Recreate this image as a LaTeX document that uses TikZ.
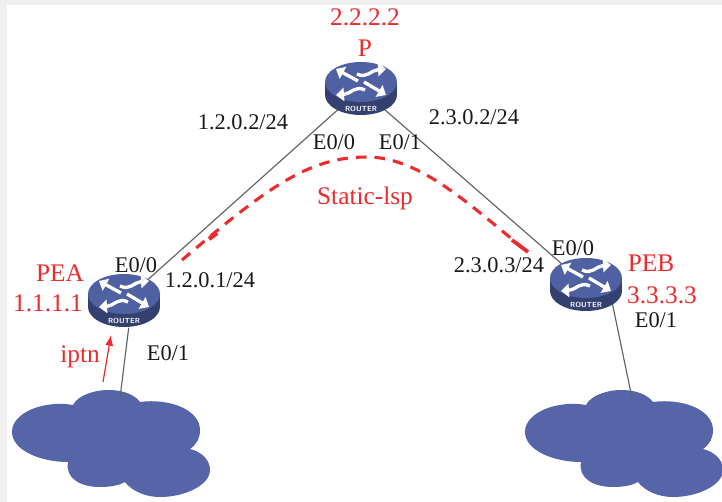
\documentclass[tikz,border=0pt]{standalone}
\usepackage{fontspec}
\setmainfont{Liberation Serif}
\usetikzlibrary{calc, arrows.meta, shapes.geometric}
\definecolor{routertop}{HTML}{5061A3}
\definecolor{routerside}{HTML}{34406F}
\definecolor{cloudblue}{HTML}{5565A8}
\definecolor{labelred}{HTML}{EE2A2A}
\tikzset{
    routerspot/.style={ellipse, minimum width=54pt, minimum height=40pt, inner sep=0pt},
    tag/.style={font=\fontsize{16.8}{16.8}\selectfont, inner sep=0pt, text=black!90},
    redtag/.style={font=\fontsize{19}{19}\selectfont, inner sep=0pt, text=labelred},
    link/.style={draw=black!62, line width=0.85pt},
    iconarrow/.style={white, line width=2.5pt, -{Triangle[length=6pt,width=10pt]}},
    pics/router/.style={code={
        \fill[routerside] (0,6) ellipse[x radius=36, y radius=20];
        \fill[routerside] (-36,-7) rectangle (36,6);
        \fill[routertop] (0,-7) ellipse[x radius=36, y radius=20];
        \draw[iconarrow] (-3,-8) -- (-25,-20);
        \draw[iconarrow] (-4,-15) .. controls (6,-10) and (10,-19) .. (25,-20);
        \draw[iconarrow] (3,-7) -- (25,6);
        \draw[iconarrow] (4,1) .. controls (-6,-4) and (-10,5) .. (-25,6);
        \node[font=\sffamily\bfseries\fontsize{5.5}{5.5}\selectfont, text=white, inner sep=0pt] at (0,19.5) {ROUTER};
    }},
    pics/cloud/.style={code={
        \fill[cloudblue] (12,432) .. controls (12,412) and (45,400) .. (73,405)
            .. controls (78,395) and (95,390) .. (108,390)
            .. controls (122,390) and (134,394) .. (140,402)
            .. controls (170,398) and (200,410) .. (200,430)
            .. controls (200,438) and (197,444) .. (190,449)
            .. controls (202,452) and (210,460) .. (210,470)
            .. controls (210,485) and (185,497) .. (160,497)
            .. controls (145,497) and (132,491) .. (125,482)
            .. controls (118,486) and (108,487) .. (100,487)
            .. controls (80,487) and (65,478) .. (68,462)
            .. controls (40,462) and (12,450) .. (12,432) -- cycle;
    }}
}
\begin{document}
\begin{tikzpicture}[x=0.75pt, y=-0.75pt]
    \useasboundingbox (0,0) rectangle (722,502);
    \fill[black!6] (0,0) rectangle (722,502);
    \fill[white] (7,5) rectangle (722,502);
    % routers and clouds
    \node[routerspot] (P) at (361,89) {};
    \node[routerspot] (PEA) at (124,301) {};
    \node[routerspot] (PEB) at (586,285) {};
    \coordinate (cloudA) at (120,398);
    \coordinate (cloudB) at (632,398);
    \pic at (0,0) {cloud};
    \pic at (513,0) {cloud};
    % links
    \draw[link] (P) -- (PEA);
    \draw[link] (P) -- (PEB);
    \draw[link] (PEA.-80) -- (cloudA);
    \draw[link] (PEB.-35) -- (cloudB);
    \pic at (361,89) {router};
    \pic at (124,301) {router};
    \pic at (586,285) {router};
    % lsp
    \coordinate (lspA) at (182,260);
    \coordinate (lspB) at (530,254);
    \draw[labelred, line width=2.3pt, dash pattern=on 8pt off 6pt] (lspA) .. controls (270,185) and (310,157) .. (367,157) .. controls (420,157) and (470,205) .. (lspB);
    \draw[labelred, line width=3.2pt] (209,239) -- (217,233);
    \draw[labelred, line width=2.8pt] (512,240) -- (528,252);
    \coordinate (iptnA) at (103,382);
    \coordinate (iptnB) at (111,335);
    \draw[-{Latex[length=8pt,width=6pt]}, labelred, line width=0.9pt] (iptnA) -- (iptnB);
    % labels
    \node[redtag] (lblP) at (365,17) {2.2.2.2};
    \node[redtag] (lblPname) at (365,48) {P};
    \node[redtag] (lblPEA) at (60,273) {PEA};
    \node[redtag] (lblAip) at (48,303) {1.1.1.1};
    \node[redtag] (lblPEB) at (651,263) {PEB};
    \node[redtag] (lblBip) at (662,295) {3.3.3.3};
    \node[redtag] (lbliptn) at (80,357) {iptn};
    \node[redtag] (lbllsp) at (365,198) {Static-lsp};
    \node[tag] (lblA) at (243,122) {1.2.0.2/24};
    \node[tag] (lblB) at (474,117) {2.3.0.2/24};
    \node[tag] (lblC) at (334,142) {E0/0};
    \node[tag] (lblD) at (400,142) {E0/1};
    \node[tag] (lblE) at (136,265) {E0/0};
    \node[tag] (lblF) at (210,280) {1.2.0.1/24};
    \node[tag] (lblG) at (168,353) {E0/1};
    \node[tag] (lblH) at (499,265) {2.3.0.3/24};
    \node[tag] (lblI) at (573,248) {E0/0};
    \node[tag] (lblJ) at (656,320) {E0/1};
\end{tikzpicture}
\end{document}
